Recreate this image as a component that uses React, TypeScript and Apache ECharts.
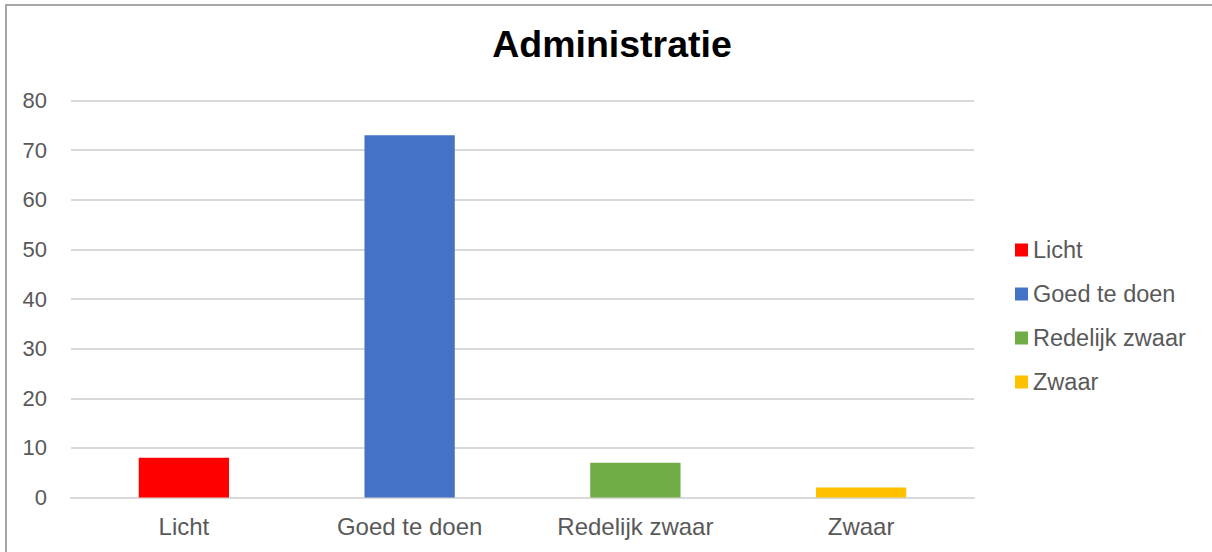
import React, { useEffect, useRef } from "react";
import * as echarts from "echarts";

const titleText = "Administratie";
const categories = ["Licht", "Goed te doen", "Redelijk zwaar", "Zwaar"];
const values = [8, 73, 7, 2];
const colors = ["#ff0000", "#4472c4", "#70ad47", "#ffc000"];
const yMin = 0;
const yMax = 80;
const yInterval = 10;

const FONT = "'Liberation Sans', Arial, sans-serif";
const TEXT_COLOR = "#595959";

export default function App() {
  const ref = useRef<HTMLDivElement>(null);
  useEffect(() => {
    if (!ref.current) return;
    const chart = echarts.init(ref.current, undefined, { renderer: "svg" });
    const series = categories.map((name, i) => ({
      name,
      type: "bar",
      stack: "total",
      barWidth: "40%",
      itemStyle: { color: colors[i] },
      data: categories.map((_, j) => (j === i ? values[i] : null)),
    }));
    chart.setOption({
      animation: false,
      backgroundColor: "#ffffff",
      textStyle: { fontFamily: FONT },
      title: {
        text: titleText,
        left: 612,
        top: 25,
        padding: 0,
        textAlign: "center",
        textStyle: { fontSize: 37.5, fontWeight: "bold", color: "#000000", fontFamily: FONT },
      },
      legend: {
        orient: "vertical",
        left: 1015,
        top: 238,
        padding: 0,
        itemWidth: 13,
        itemHeight: 13,
        itemGap: 20,
        icon: "rect",
        textStyle: { fontSize: 23.5, color: TEXT_COLOR, fontFamily: FONT, padding: [0, 0, 0, 0] },
        data: categories,
      },
      grid: { left: 71, right: 238, top: 100.5, bottom: 54.5, containLabel: false },
      xAxis: {
        type: "category",
        data: categories,
        axisLine: { show: true, lineStyle: { color: "#d9d9d9", width: 2 } },
        axisTick: { show: false },
        axisLabel: { fontSize: 24, color: TEXT_COLOR, margin: 17, fontFamily: FONT },
      },
      yAxis: {
        type: "value",
        min: yMin,
        max: yMax,
        interval: yInterval,
        axisLine: { show: false },
        axisTick: { show: false },
        splitLine: { lineStyle: { color: "#d9d9d9", width: 2 } },
        axisLabel: { fontSize: 22, color: TEXT_COLOR, margin: 24, fontFamily: FONT },
      },
      graphic: [
        {
          type: "rect",
          shape: { x: 6, y: 5, width: 1240, height: 580 },
          style: { fill: "none", stroke: "#a6a6a6", lineWidth: 2 },
          silent: true,
          z: 100,
        },
      ],
      series,
    });
    return () => chart.dispose();
  }, []);
  return (
    <div
      ref={ref}
      style={{ position: "absolute", left: 0, top: 0, width: 1212, height: 552 }}
    />
  );
}
